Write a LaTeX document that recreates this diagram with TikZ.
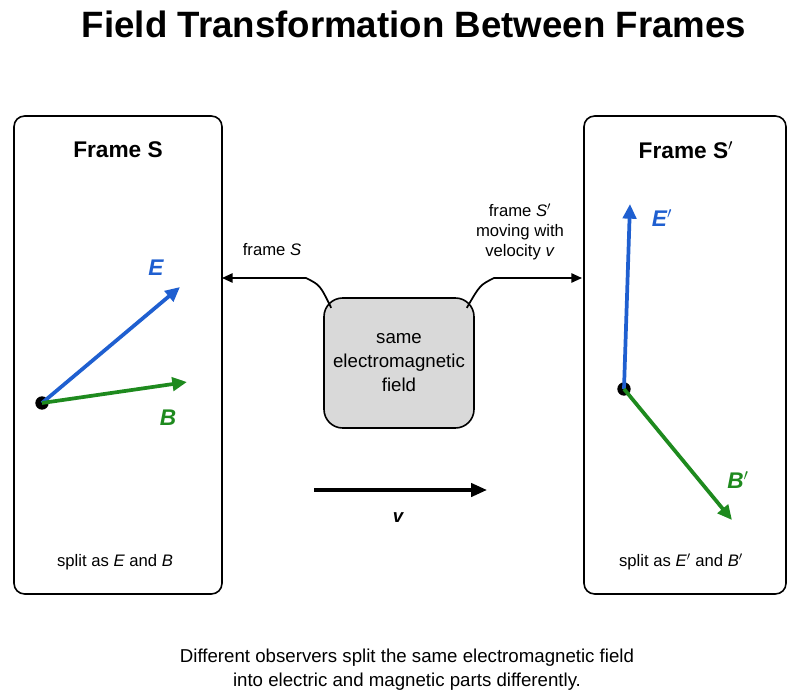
\documentclass[tikz,border=0pt]{standalone}
\usepackage{fontspec}
\setmainfont{Liberation Sans}
\usetikzlibrary{arrows.meta}
\definecolor{eblue}{HTML}{1F5FD0}
\definecolor{bgreen}{HTML}{1E8A1E}
\begin{document}
\begin{tikzpicture}[x=0.75pt,y=-0.75pt,
  frame/.style={draw,line width=1.2pt,rounded corners=8pt},
  vec/.style={line width=2.8pt,-{Triangle[length=11pt,width=10pt]}},
  conn/.style={line width=1.3pt,-{Triangle[length=8pt,width=7pt]}},
  lbl/.style={font=\fontsize{12.5}{15}\selectfont,align=center},
  dot/.style={circle,fill=black,inner sep=0pt,minimum size=10pt}]
\useasboundingbox (0,0) rectangle (800,699);
\node (title) at (414,24) {\fontsize{27.5}{30}\selectfont\bfseries Field Transformation Between Frames};
\draw[frame] (14,116) rectangle (222,594);
\draw[frame] (584,116) rectangle (786,594);
\node (fs) at (118,150) {\fontsize{17}{20}\selectfont\bfseries Frame S};
\node (fsp) at (686,150) {\fontsize{17}{20}\selectfont\bfseries Frame S$'$};
% left vectors
\node[dot] (o1) at (42,403) {};
\coordinate (e1) at (180,287);
\coordinate (b1) at (187,382);
\draw[vec,eblue] (o1.center) -- (e1);
\draw[vec,bgreen] (o1.center) -- (b1);
\node[eblue] (le) at (156,268) {\fontsize{17}{20}\selectfont\bfseries\itshape E};
\node[bgreen] (lb) at (168,418) {\fontsize{17}{20}\selectfont\bfseries\itshape B};
\node[lbl] (sp1) at (115,562) {split as \textit{E} and \textit{B}};
% right vectors
\node[dot] (o2) at (624,389) {};
\coordinate (e2) at (630,204);
\coordinate (b2) at (732,520);
\draw[vec,eblue] (o2.center) -- (e2);
\draw[vec,bgreen] (o2.center) -- (b2);
\node[eblue] (lep) at (662,218) {\fontsize{17}{20}\selectfont\bfseries\itshape E$'$};
\node[bgreen] (lbp) at (738,480) {\fontsize{17}{20}\selectfont\bfseries\itshape B$'$};
\node[lbl] (sp2) at (681,562) {split as \textit{E}$'$ and \textit{B}$'$};
% center
\node[draw,line width=1.2pt,fill=gray!30,rounded corners=14pt,minimum width=150*0.75pt,minimum height=130*0.75pt,font=\fontsize{14}{18}\selectfont,align=center] (c) at (399,363) {same\\electromagnetic\\field};
\coordinate (la) at (222,278);
\coordinate (ra) at (582,278);
\draw[conn] ([xshift=6pt,yshift=-8pt]c.north west) .. controls (320,285) .. (306,278) -- (la);
\draw[conn] ([xshift=-6pt,yshift=-8pt]c.north east) .. controls (480,285) .. (494,278) -- (ra);
\node[lbl] (fl) at (272,250) {frame \textit{S}};
\node[lbl] (fr) at (520,232) {frame \textit{S}$'$\\moving with\\velocity \textit{v}};
% v arrow
\coordinate (v1) at (314,490);
\coordinate (v2) at (487,490);
\draw[line width=2.6pt,-{Triangle[length=12pt,width=10pt]}] (v1) -- (v2);
\node (lv) at (398,518) {\fontsize{14}{16}\selectfont\bfseries\itshape v};
\node[font=\fontsize{14}{18}\selectfont,align=center] (cap) at (407,670) {Different observers split the same electromagnetic field\\into electric and magnetic parts differently.};
\end{tikzpicture}
\end{document}
